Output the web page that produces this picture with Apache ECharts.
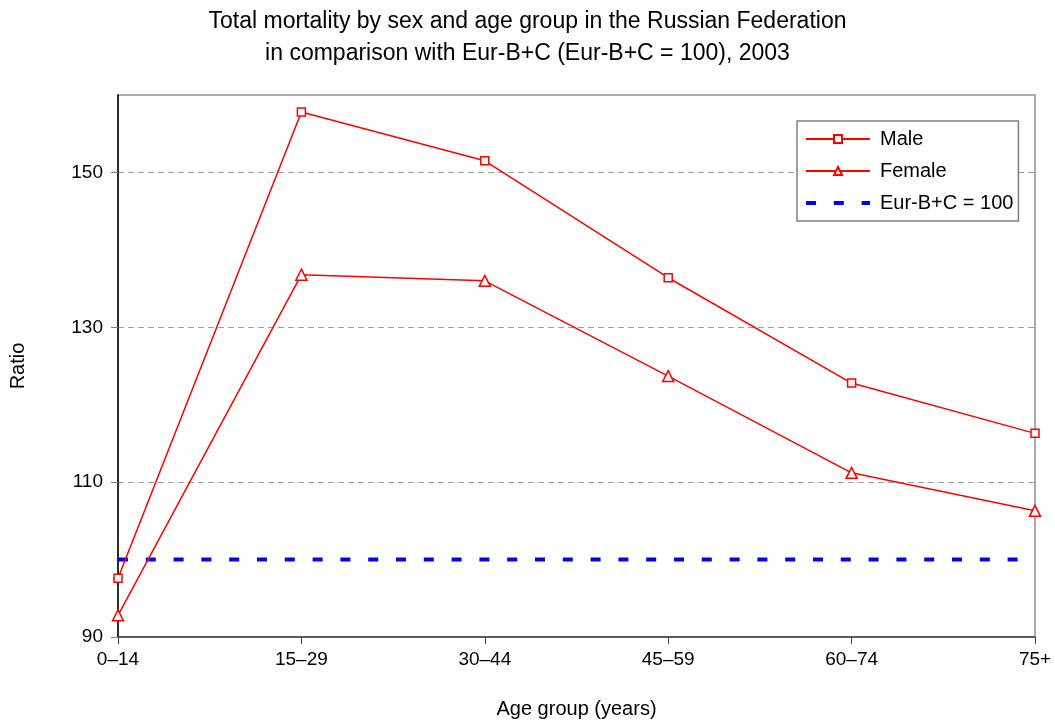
<!DOCTYPE html>
<html>
<head>
<meta charset="utf-8">
<script src="https://cdn.jsdelivr.net/npm/echarts@6/dist/echarts.min.js"></script>
<style>
  html, body { margin: 0; padding: 0; background: #fff; }
  #chart { width: 1055px; height: 724px; }
</style>
</head>
<body>
<div id="chart"></div>
<script>
// Age groups on the x axis
const ageGroups = ['0\u201314', '15\u201329', '30\u201344', '45\u201359', '60\u201374', '75+'];
// Mortality ratios (Eur-B+C = 100)
const maleValues = [97.6, 157.8, 151.5, 136.4, 122.8, 116.3];
const femaleValues = [92.8, 136.8, 136.0, 123.7, 111.2, 106.3];
const referenceValues = [100, 100, 100, 100, 100, 100];
// Y axis scale
const yMin = 90, yMax = 160, yStep = 20;

const FONT = '"Liberation Sans", Arial, sans-serif';
const BLUE_DASH = [10, 17.8];

const chart = echarts.init(document.getElementById('chart'), null, { renderer: 'canvas' });
chart.setOption({
  animation: false,
  backgroundColor: '#ffffff',
  textStyle: { fontFamily: FONT, color: '#000' },
  title: {
    text: 'Total mortality by sex and age group in the Russian Federation\nin comparison with Eur-B+C (Eur-B+C = 100), 2003',
    left: 'center',
    top: 1,
    textStyle: { fontFamily: FONT, fontSize: 23, fontWeight: 'normal', color: '#000', lineHeight: 32 }
  },
  legend: {
    orient: 'vertical',
    left: 797,
    top: 121,
    padding: [7, 5, 7, 7],
    itemWidth: 64,
    itemHeight: 10,
    itemGap: 10,
    borderColor: '#808080',
    borderWidth: 1.5,
    backgroundColor: '#fff',
    textStyle: { fontFamily: FONT, fontSize: 20, color: '#000', padding: [0, 0, 0, 5], lineHeight: 22 },
    data: [
      'Male',
      'Female',
      {
        name: 'Eur-B+C = 100',
        itemStyle: { opacity: 0 },
        lineStyle: { width: 4, type: BLUE_DASH, color: '#0000ff' }
      }
    ]
  },
  grid: {
    left: 118, right: 20, top: 95, bottom: 83,
    show: true,
    borderColor: '#909090',
    borderWidth: 1.5,
    containLabel: false
  },
  xAxis: {
    type: 'category',
    data: ageGroups,
    boundaryGap: false,
    name: 'Age group (years)',
    nameLocation: 'middle',
    nameGap: 62,
    nameTextStyle: { fontFamily: FONT, fontSize: 20, color: '#000' },
    axisLine: { lineStyle: { color: '#444', width: 1.5 } },
    axisTick: { alignWithLabel: true, length: 7, lineStyle: { color: '#444' } },
    axisLabel: { fontFamily: FONT, fontSize: 19, color: '#000', margin: 13 },
    splitLine: { show: false }
  },
  yAxis: {
    type: 'value',
    min: yMin,
    max: yMax,
    interval: yStep,
    name: 'Ratio',
    nameLocation: 'middle',
    nameRotate: 90,
    nameGap: 90,
    nameTextStyle: { fontFamily: FONT, fontSize: 20, color: '#000' },
    axisLine: { show: true, lineStyle: { color: '#000', width: 1.5 } },
    axisTick: { show: true, length: 7, lineStyle: { color: '#808080' } },
    axisLabel: { fontFamily: FONT, fontSize: 19, color: '#000', margin: 15, showMaxLabel: false },
    splitLine: { show: true, showMaxLine: false, lineStyle: { color: '#a0a0a0', type: [6, 4], width: 1 } }
  },
  series: [
    {
      name: 'Male',
      type: 'line',
      data: maleValues,
      symbol: 'rect',
      symbolSize: 8,
      itemStyle: { color: '#fff', borderColor: '#ff0000', borderWidth: 1.5 },
      lineStyle: { color: '#ff0000', width: 1.5 },
      z: 3
    },
    {
      name: 'Female',
      type: 'line',
      data: femaleValues,
      symbol: 'triangle',
      symbolSize: 11,
      itemStyle: { color: '#fff', borderColor: '#ff0000', borderWidth: 1.5 },
      lineStyle: { color: '#ff0000', width: 1.5 },
      z: 3
    },
    {
      name: 'Eur-B+C = 100',
      type: 'line',
      data: referenceValues,
      symbol: 'none',
      itemStyle: { color: '#0000ff' },
      lineStyle: { color: '#0000ff', width: 4, type: BLUE_DASH },
      z: 2
    }
  ]
});
</script>
</body>
</html>
